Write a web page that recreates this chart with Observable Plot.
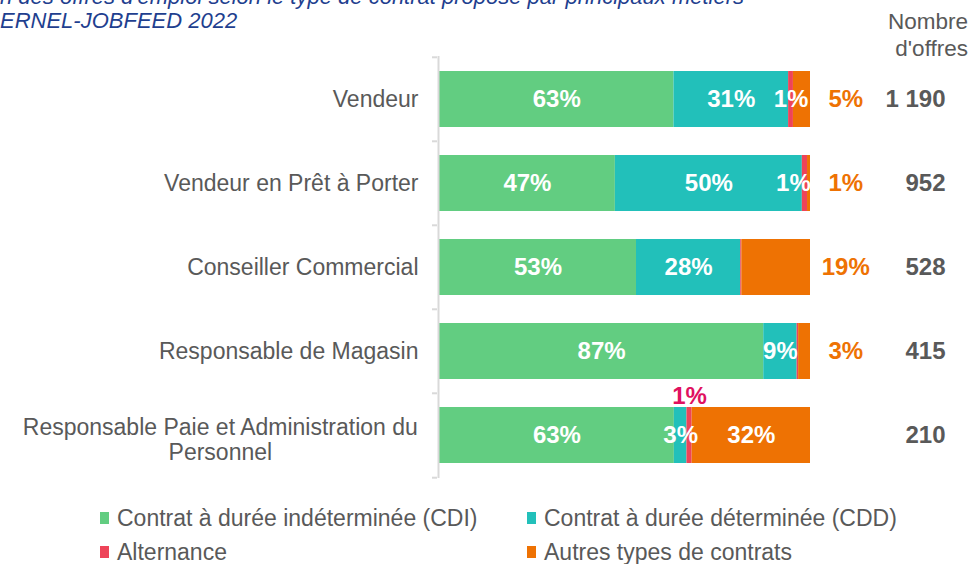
<!DOCTYPE html>
<html>
<head>
<meta charset="utf-8">
<script src="https://cdn.jsdelivr.net/npm/d3@7"></script>
<script src="https://cdn.jsdelivr.net/npm/@observablehq/plot@0.6"></script>
<style>
  html, body { margin: 0; padding: 0; background: #fff; overflow: hidden; }
  #wrap { position: relative; width: 974px; height: 564px; font-family: "Liberation Sans", Arial, sans-serif; }
  #chart { position: absolute; left: 0; top: 0; }
  .title { position: absolute; left: 0; color: #1F3F8F; font-style: italic; font-size: 22px; line-height: 22px; white-space: nowrap; }
  .hdr { position: absolute; right: 6px; top: 8px; color: #595959; font-size: 22.5px; line-height: 27px; text-align: right; }
  .leg { position: absolute; display: flex; align-items: center; color: #595959; font-size: 23px; line-height: 22px; white-space: nowrap; }
  .leg i { display: inline-block; width: 9px; height: 12px; margin-right: 8px; }
</style>
</head>
<body>
<div id="wrap">
  <div id="chart"></div>
  <div class="title" style="top:-14px">n des offres d'emploi selon le type de contrat proposé par principaux métiers</div>
  <div class="title" style="top:10px">ERNEL-JOBFEED 2022</div>
  <div class="hdr">Nombre<br>d'offres</div>
  <div id="legend"></div>
</div>
<script>
const categories = ["Vendeur", "Vendeur en Prêt à Porter", "Conseiller Commercial", "Responsable de Magasin", "Responsable Paie et Administration du Personnel"];
const tickLabels = ["Vendeur", "Vendeur en Prêt à Porter", "Conseiller Commercial", "Responsable de Magasin", "Responsable Paie et Administration du\nPersonnel"];
const series = ["Contrat à durée indéterminée (CDI)", "Contrat à durée déterminée (CDD)", "Alternance", "Autres types de contrats"];
const cdi = [63.2, 47.4, 53.1, 87.4, 63.3];
const cdd = [30.9, 50.4, 28.1, 9.0, 3.4];
const alternance = [1.3, 1.4, 0.3, 0.4, 1.4];
const autres = [4.6, 0.8, 18.5, 3.2, 31.9];
const offres = [1190, 952, 528, 415, 210];
const colors = ["#62CD81", "#22C0BA", "#EE4459", "#EE7203"];

const fmtCount = n => d3.format(",")(n).replace(/,/g, "\u00A0");
const values = [cdi, cdd, alternance, autres];

// long table
const rows = [];
categories.forEach((c, i) => {
  let start = 0;
  series.forEach((s, k) => {
    const v = values[k][i];
    rows.push({cat: c, series: s, k, value: v, x1: start, x2: start + v, mid: start + v / 2});
    start += v;
  });
});

const pct = v => Math.round(v) + "%";
const insideLabels = rows.filter(r => {
  if (Math.round(r.value) < 1) return false;
  if (r.k === 0 || r.k === 1) return true;
  if (r.k === 2) return r.cat !== categories[4];
  if (r.k === 3) return r.value > 25;
  return false;
}).map(r => ({...r, lx: r.k === 2 ? Math.min(r.mid, 95.4) : r.mid}));
const outsideLabels = rows.filter(r => r.k === 3 && r.value <= 25);
const aboveLabels = rows.filter(r => r.k === 2 && r.cat === categories[4] && Math.round(r.value) >= 1);

const labelData = categories.map((c, i) => ({cat: c, label: tickLabels[i]}));
const single = labelData.filter(d => !d.label.includes("\n"));
const multi = labelData.filter(d => d.label.includes("\n"));

// measure text for centred multi-line label
const ctx = document.createElement("canvas").getContext("2d");
ctx.font = "23px 'Liberation Sans'";
const multiW = multi.length ? d3.max(multi[0].label.split("\n"), s => ctx.measureText(s).width) : 0;

const fontFam = "'Liberation Sans', Arial, sans-serif";
const chart = Plot.plot({
  width: 974,
  height: 490,
  marginTop: 56,
  marginBottom: 12,
  marginLeft: 439,
  marginRight: 164,
  style: {fontFamily: fontFam, background: "transparent"},
  x: {domain: [0, 100], axis: null},
  y: {domain: categories, axis: null, paddingInner: 0.335, paddingOuter: 0.1675},
  color: {domain: series, range: colors},
  marks: [
    Plot.barX(rows, {y: "cat", x1: "x1", x2: "x2", fill: "series"}),
    Plot.ruleX([0], {stroke: "#D9D9D9", strokeWidth: 2, dx: -1}),
    Plot.ruleY(categories, {y: d => d, dy: -42.2, x1: 0, x2: 0, insetLeft: -7, insetRight: 2, stroke: "#D9D9D9", strokeWidth: 2}),
    Plot.ruleY([categories[categories.length - 1]], {y: d => d, dy: 42.2, x1: 0, x2: 0, insetLeft: -7, insetRight: 2, stroke: "#D9D9D9", strokeWidth: 2}),
    Plot.text(insideLabels, {y: "cat", x: "lx", text: d => pct(d.value), fill: "white", fontWeight: "bold", fontSize: 24}),
    Plot.text(outsideLabels, {y: "cat", x: 109.5, text: d => pct(d.value), fill: "#EE7203", fontWeight: "bold", fontSize: 24}),
    Plot.text(aboveLabels, {y: "cat", x: "mid", dy: -39, text: d => pct(d.value), fill: "#E0115F", fontWeight: "bold", fontSize: 24}),
    Plot.text(categories, {y: d => d, x: 136.4, text: (d, i) => fmtCount(offres[i]), textAnchor: "end", fill: "#595959", fontWeight: "bold", fontSize: 24}),
    Plot.text(single, {y: "cat", x: 0, dx: -21, text: "label", textAnchor: "end", fill: "#595959", fontSize: 23}),
    Plot.text(multi, {y: "cat", x: 0, dx: -21 - multiW / 2, dy: 4, text: "label", textAnchor: "middle", lineHeight: 1.1, fill: "#595959", fontSize: 23})
  ]
});
document.getElementById("chart").appendChild(chart);

// legend
const legPos = [[100, 507], [527, 507], [100, 541], [527, 541]];
const leg = document.getElementById("legend");
series.forEach((s, k) => {
  const d = document.createElement("div");
  d.className = "leg";
  d.style.left = legPos[k][0] + "px";
  d.style.top = legPos[k][1] + "px";
  d.innerHTML = `<i style="background:${colors[k]}"></i>`;
  d.appendChild(document.createTextNode(s));
  leg.appendChild(d);
});
</script>
</body>
</html>
